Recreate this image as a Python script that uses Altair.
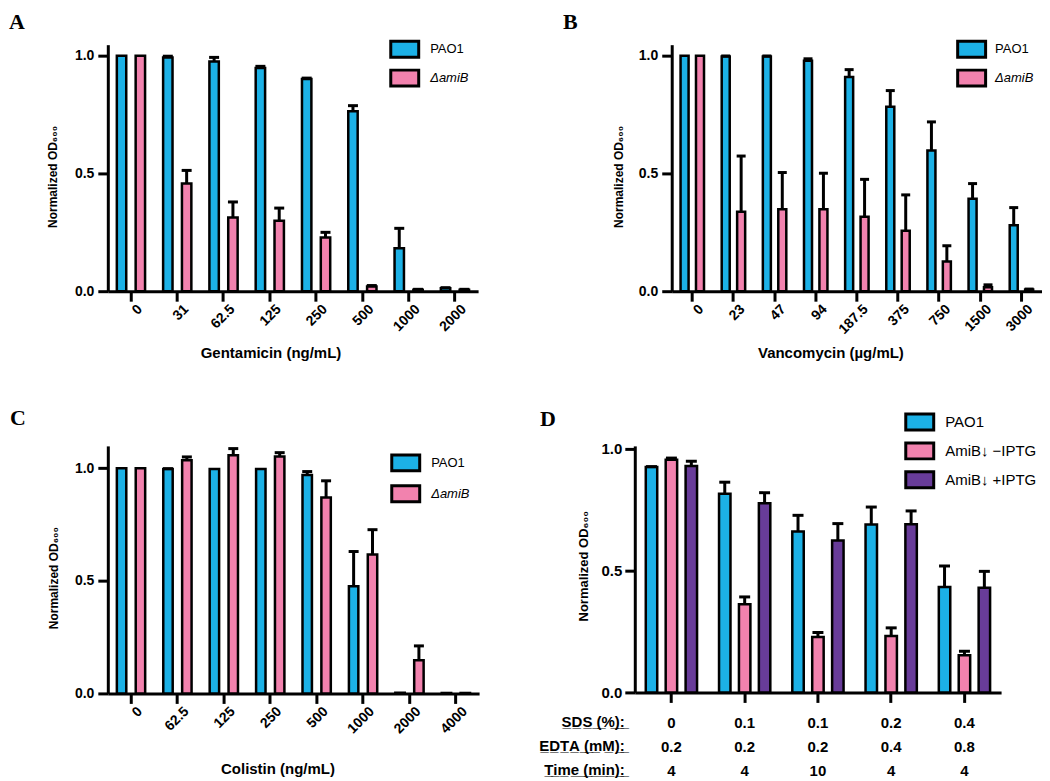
import altair as alt
import pandas as pd

FONT = "Liberation Sans"
SERIF = "Liberation Serif"
BLUE = "#1CB1E6"
PINK = "#F282AE"
PURPLE = "#683C99"

# ---------------- data ----------------
gent_conc = ["0", "31", "62.5", "125", "250", "500", "1000", "2000"]
gent_pao1 = [1.0, 0.993, 0.976, 0.948, 0.901, 0.764, 0.182, 0.012]
gent_pao1_err = [0, 0.005, 0.017, 0.007, 0.004, 0.024, 0.085, 0.003]
gent_amib = [1.0, 0.457, 0.313, 0.299, 0.228, 0.020, 0.006, 0.006]
gent_amib_err = [0, 0.056, 0.066, 0.054, 0.022, 0.004, 0.002, 0.002]

vanc_conc = ["0", "23", "47", "94", "187.5", "375", "750", "1500", "3000"]
vanc_pao1 = [1.0, 0.997, 0.997, 0.979, 0.910, 0.783, 0.598, 0.393, 0.280]
vanc_pao1_err = [0, 0.002, 0.002, 0.008, 0.031, 0.069, 0.121, 0.064, 0.075]
vanc_amib = [1.0, 0.337, 0.348, 0.348, 0.316, 0.257, 0.126, 0.017, 0.007]
vanc_amib_err = [0, 0.237, 0.156, 0.153, 0.159, 0.152, 0.067, 0.010, 0.002]

coli_conc = ["0", "62.5", "125", "250", "500", "1000", "2000", "4000"]
coli_pao1 = [1.0, 0.996, 0.996, 0.996, 0.970, 0.476, 0.003, 0.002]
coli_pao1_err = [0, 0.002, 0, 0, 0.015, 0.154, 0, 0]
coli_amib = [1.0, 1.035, 1.057, 1.052, 0.870, 0.617, 0.147, 0.002]
coli_amib_err = [0, 0.015, 0.030, 0.017, 0.074, 0.110, 0.064, 0]

d_sds = ["0", "0.1", "0.1", "0.2", "0.4"]
d_edta = ["0.2", "0.2", "0.2", "0.4", "0.8"]
d_time = ["4", "4", "10", "4", "4"]
d_pao1 = [0.925, 0.816, 0.661, 0.689, 0.433]
d_pao1_err = [0.002, 0.047, 0.066, 0.072, 0.086]
d_minus = [0.955, 0.362, 0.228, 0.232, 0.153]
d_minus_err = [0.007, 0.030, 0.018, 0.033, 0.016]
d_plus = [0.929, 0.777, 0.624, 0.690, 0.430]
d_plus_err = [0.020, 0.043, 0.069, 0.055, 0.067]

d_row_headers = ["SDS (%):", "EDTA (mM):", "Time (min):"]
strains_ab = ["PAO1", "ΔamiB"]
strains_d = ["PAO1", "AmiB↓ −IPTG", "AmiB↓ +IPTG"]

RECT = "M-1.75,-1H1.75V1H-1.75Z"


def underline(s):
    return "".join(ch + "\u0332" for ch in s)


def make_df(cats, groups, means, errs):
    rows = []
    for g, m, e in zip(groups, means, errs):
        for c, mv, ev in zip(cats, m, e):
            rows.append({"cat": c, "grp": g, "mean": mv, "err": ev, "upper": mv + ev})
    return pd.DataFrame(rows)


def panel(letter, df, cats, groups, colors, *, width, height, ytop, pin, poff,
          cap, xtitle, xtitle_x, xtitle_y, ytitle_x, ytitle_y, leg_x, leg_y,
          leg_off, leg_row, letter_dx, letter_off, multiline=False,
          ylab_pad=4, ylab_fs=14, ytitle_fs=12, leg_fs=13, extra=None):
    xscale = alt.Scale(paddingInner=pin, paddingOuter=pin / 2)
    if multiline:
        xaxis = alt.Axis(labelAngle=0, labelAlign="center", labelBaseline="top",
                         labelExpr="split(datum.label, '|')", labelLineHeight=24,
                         labelPadding=13, labelFont=FONT, labelFontSize=15,
                         labelFontWeight="bold", labelColor="black",
                         tickSize=10, tickWidth=3, tickColor="black",
                         domainWidth=3, domainColor="black", title=None,
                         labelOverlap=False)
    else:
        xaxis = alt.Axis(labels=False,
                         tickSize=10, tickWidth=3, tickColor="black",
                         domainWidth=3, domainColor="black",
                         title=xtitle, titleFont=FONT, titleFontSize=15,
                         titleFontWeight="bold", titleColor="black",
                         titleX=xtitle_x, titleY=xtitle_y, titleAlign="center",
                         titleBaseline="middle")
    yaxis = alt.Axis(values=[0, 0.5, 1.0], format=".1f", grid=False,
                     domainWidth=3, domainColor="black", tickWidth=3,
                     tickColor="black", tickSize=10, labelPadding=ylab_pad,
                     labelFont=FONT, labelFontSize=ylab_fs, labelFontWeight="bold",
                     labelColor="black", title="Normalized OD₆₀₀",
                     titleFont=FONT, titleFontSize=ytitle_fs, titleFontWeight="bold",
                     titleColor="black", titleX=ytitle_x, titleY=ytitle_y,
                     titleAlign="center", titleBaseline="middle")
    base = alt.Chart(df).encode(
        x=alt.X("cat:N", sort=cats, scale=xscale, axis=xaxis),
        xOffset=alt.XOffset("grp:N", sort=groups,
                            scale=alt.Scale(paddingInner=poff, paddingOuter=0)),
    )
    yscale = alt.Scale(domain=[0, ytop], nice=False, zero=True)
    bars = base.mark_bar(stroke="black", strokeWidth=2.5, opacity=1).encode(
        y=alt.Y("mean:Q", scale=yscale, axis=yaxis),
        color=alt.Color("grp:N", sort=groups,
                        scale=alt.Scale(domain=groups, range=colors),
                        legend=alt.Legend(
                            orient="none", legendX=leg_x, legendY=leg_y,
                            title=None, symbolType=RECT, symbolSize=256,
                            symbolStrokeColor="black", symbolStrokeWidth=3,
                            symbolOpacity=1, labelFont=FONT, labelFontSize=leg_fs,
                            labelColor="black", labelOffset=leg_off,
                            rowPadding=leg_row, padding=0,
                            labelFontStyle=alt.ExprRef(
                                expr="datum.label == 'ΔamiB' ? 'italic' : 'normal'"))),
    )
    errdata = base.transform_filter("datum.err > 0")
    rules = errdata.mark_rule(color="black", strokeWidth=3).encode(
        y=alt.Y("mean:Q", scale=yscale), y2="upper:Q")
    caps = errdata.mark_tick(color="black", orient="horizontal", size=cap,
                             thickness=3, opacity=1).encode(
        y=alt.Y("upper:Q", scale=yscale))
    layers = [rules, bars, caps]
    if not multiline:
        xlabels = alt.Chart(pd.DataFrame({"cat": cats})).mark_text(
            angle=315, align="right", baseline="top", font=FONT, fontSize=14,
            fontWeight="bold", color="black", dx=3, dy=3,
        ).encode(x=alt.X("cat:N", sort=cats, scale=xscale, axis=xaxis),
                 y=alt.value(height + 11), text="cat:N")
        layers.append(xlabels)
    if extra is not None:
        layers.append(extra)
    return alt.layer(*layers).properties(
        width=width, height=height,
        title=alt.TitleParams(letter, anchor="start", frame="group", font=SERIF,
                              fontSize=22, fontWeight="bold", color="black",
                              dx=letter_dx, offset=letter_off),
    )


dfA = make_df(gent_conc, strains_ab, [gent_pao1, gent_amib], [gent_pao1_err, gent_amib_err])
dfB = make_df(vanc_conc, strains_ab, [vanc_pao1, vanc_amib], [vanc_pao1_err, vanc_amib_err])
dfC = make_df(coli_conc, strains_ab, [coli_pao1, coli_amib], [coli_pao1_err, coli_amib_err])
d_cats = [f"{s}|{e}|{t}" for s, e, t in zip(d_sds, d_edta, d_time)]
dfD = make_df(d_cats, strains_d, [d_pao1, d_minus, d_plus], [d_pao1_err, d_minus_err, d_plus_err])

panelA = panel("A", dfA, gent_conc, strains_ab, [BLUE, PINK], width=371, height=247,
               ytop=1.047, pin=0.39, poff=0.5, cap=10,
               xtitle="Gentamicin  (ng/mL)", xtitle_x=163, xtitle_y=61,
               ytitle_x=-55, ytitle_y=132, leg_x=288, leg_y=-5, leg_off=16,
               leg_row=0, letter_dx=-99, letter_off=6)

panelB = panel("B", dfB, vanc_conc, strains_ab, [BLUE, PINK], width=371, height=247,
               ytop=1.047, pin=0.43, poff=0.48, cap=9,
               xtitle="Vancomycin  (µg/mL)", xtitle_x=159, xtitle_y=61,
               ytitle_x=-53, ytitle_y=132, leg_x=291, leg_y=-5, leg_off=14,
               leg_row=0, letter_dx=-109, letter_off=6)

panelC = panel("C", dfC, coli_conc, strains_ab, [BLUE, PINK], width=372, height=248,
               ytop=1.099, pin=0.39, poff=0.5, cap=10,
               xtitle="Colistin  (ng/mL)", xtitle_x=170, xtitle_y=75,
               ytitle_x=-54, ytitle_y=132, leg_x=289, leg_y=7.5, leg_off=16,
               leg_row=2, letter_dx=-98, letter_off=16)

headers = alt.Chart(pd.DataFrame({"k": [0]})).mark_text(
    text=[underline(h) for h in d_row_headers], align="right", baseline="top",
    lineHeight=24, font=FONT, fontSize=15, fontWeight="bold", color="black",
).encode(x=alt.value(-10), y=alt.value(247 + 23))

panelD = panel("D", dfD, d_cats, strains_d, [BLUE, PINK, PURPLE], width=367, height=247,
               ytop=1.012, pin=0.30, poff=0.425, cap=11,
               xtitle=None, xtitle_x=0, xtitle_y=0,
               ytitle_x=-51, ytitle_y=120, leg_x=276, leg_y=-33.5, leg_off=16,
               leg_row=0, letter_dx=-95, letter_off=-19, multiline=True,
               ylab_pad=3, ylab_fs=15, ytitle_fs=13, leg_fs=15, extra=headers)


def hc(a, b, sp):
    return alt.hconcat(a, b, spacing=sp).resolve_scale(
        x="independent", y="independent", color="independent",
        xOffset="independent").resolve_legend(color="independent")


top = hc(panelA, panelB, 85)
bottom = hc(panelC, panelD, 60)

chart = alt.vconcat(top, bottom, spacing=47).resolve_scale(
    x="independent", y="independent", color="independent",
    xOffset="independent").resolve_legend(color="independent").properties(
    padding={"left": 1, "top": 2, "right": 0, "bottom": 0}, background="white"
).configure_view(stroke=None)

chart.save("out.html", embed_options={"renderer": "svg", "actions": False})
